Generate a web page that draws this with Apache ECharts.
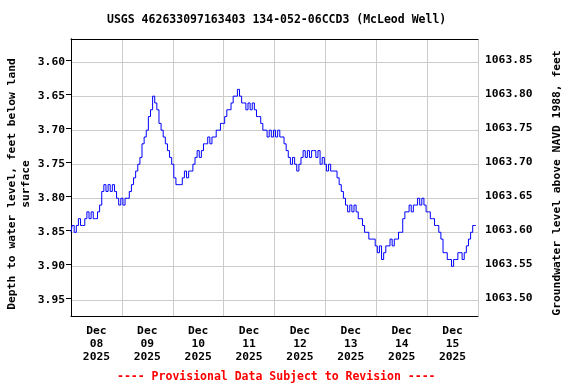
<!DOCTYPE html>
<html>
<head>
<meta charset="utf-8">
<script src="https://cdn.jsdelivr.net/npm/echarts@6/dist/echarts.min.js"></script>
<style>html,body{margin:0;padding:0;background:#fff}#c{width:576px;height:384px}</style>
</head>
<body>
<div id="c"></div>
<script>
// Hours since 2025-12-08 00:00
var hours = [];
for (var i = 0; i < 192; i++) hours.push(i);
// Depth to water level (feet below land surface), hourly
var depth = [
3.85,3.84,3.85,3.84,3.83,3.84,3.84,3.83,3.82,3.83,3.82,3.83,3.83,3.82,3.81,3.79,
3.78,3.79,3.78,3.79,3.78,3.79,3.80,3.81,3.80,3.81,3.80,3.80,3.79,3.78,3.77,3.76,
3.75,3.74,3.72,3.71,3.70,3.68,3.67,3.65,3.66,3.67,3.69,3.70,3.71,3.72,3.73,3.74,
3.75,3.77,3.78,3.78,3.78,3.77,3.76,3.77,3.76,3.76,3.75,3.74,3.73,3.74,3.73,3.72,
3.72,3.71,3.72,3.71,3.71,3.70,3.70,3.69,3.69,3.68,3.67,3.67,3.66,3.65,3.65,3.64,
3.65,3.66,3.66,3.67,3.66,3.67,3.66,3.67,3.68,3.68,3.69,3.70,3.70,3.71,3.70,3.71,
3.70,3.71,3.70,3.71,3.71,3.72,3.73,3.74,3.75,3.74,3.75,3.76,3.75,3.74,3.73,3.74,
3.73,3.74,3.73,3.73,3.74,3.73,3.75,3.74,3.75,3.76,3.75,3.76,3.76,3.76,3.77,3.78,
3.79,3.80,3.81,3.82,3.81,3.82,3.81,3.82,3.83,3.83,3.84,3.85,3.85,3.86,3.86,3.86,
3.87,3.88,3.87,3.89,3.88,3.87,3.87,3.86,3.87,3.86,3.86,3.85,3.85,3.83,3.82,3.82,
3.81,3.82,3.81,3.81,3.80,3.81,3.80,3.81,3.82,3.82,3.83,3.83,3.84,3.84,3.85,3.86,
3.88,3.88,3.89,3.89,3.90,3.89,3.89,3.88,3.88,3.89,3.88,3.87,3.86,3.85,3.84,3.84
];
var dayLabels = ['Dec\n08\n2025','Dec\n09\n2025','Dec\n10\n2025','Dec\n11\n2025','Dec\n12\n2025','Dec\n13\n2025','Dec\n14\n2025','Dec\n15\n2025'];
var landSurface = 1067.447; // elevation = landSurface - depth
var depthMin = 3.566, depthMax = 3.973;

var FONT = 'DejaVu Sans Mono';
var txt = {fontFamily: FONT, fontWeight: 'bold', fontSize: 11.3, color: '#000'};
var gtxt = {fontFamily: FONT, fontWeight: 'bold', fontSize: 11.3, fill: '#000'};

var data = hours.map(function (h, i) { return [h, depth[i]]; });

var chart = echarts.init(document.getElementById('c'), null, {renderer: 'canvas'});
chart.setOption({
  animation: false,
  backgroundColor: '#fff',
  title: [
    {text: 'USGS 462633097163403 134-052-06CCD3 (McLeod Well)', left: 102, top: 9,
     textStyle: Object.assign({}, txt, {fontSize: 11.5})},
    {text: '---- Provisional Data Subject to Revision ----', left: 112, top: 366,
     textStyle: Object.assign({}, txt, {color: '#ff0000', fontSize: 11.5})}
  ],
  graphic: [
    {type: 'text', x: 19, y: 184, rotation: Math.PI / 2,
     style: Object.assign({}, gtxt, {text: 'Depth to water level, feet below land\nsurface', align: 'center', verticalAlign: 'middle', lineHeight: 14})},
    {type: 'text', x: 557, y: 183, rotation: Math.PI / 2,
     style: Object.assign({}, gtxt, {text: 'Groundwater level above NAVD 1988, feet', align: 'center', verticalAlign: 'middle'})}
  ],
  grid: {left: 71, right: 98, top: 39, bottom: 68, show: false, containLabel: false, outerBoundsMode: 'none'},
  xAxis: [
    {type: 'value', gridIndex: 0, min: 0, max: 192, interval: 24, position: 'bottom',
     axisLine: {show: true, lineStyle: {color: '#000', width: 1}},
     axisTick: {show: false}, axisLabel: {show: false},
     splitLine: {show: true, lineStyle: {color: '#cccccc', width: 1}}},
    {type: 'category', gridIndex: 0, data: dayLabels, boundaryGap: true, position: 'bottom',
     axisLine: {show: false}, axisTick: {show: false}, splitLine: {show: false},
     axisLabel: Object.assign({}, txt, {margin: 9, lineHeight: 12.7, interval: 0})},
    {type: 'value', gridIndex: 0, min: 0, max: 1, position: 'top',
     axisLine: {show: true, lineStyle: {color: '#000', width: 1}},
     axisTick: {show: false}, axisLabel: {show: false}, splitLine: {show: false}}
  ],
  yAxis: [
    {type: 'value', inverse: true, min: depthMin, max: depthMax, splitNumber: 8, position: 'left',
     axisLine: {show: true, lineStyle: {color: '#000', width: 1}},
     axisTick: {show: false},
     axisLabel: Object.assign({}, txt, {margin: 6, showMinLabel: false, showMaxLabel: false,
       formatter: function (v) { return v.toFixed(2); }}),
     splitLine: {show: true, lineStyle: {color: '#cccccc', width: 1}}},
    {type: 'value', min: landSurface - depthMax, max: landSurface - depthMin, splitNumber: 8, position: 'right',
     axisLine: {show: true, lineStyle: {color: '#000', width: 1}},
     axisTick: {show: true, inside: true, length: 5, lineStyle: {color: '#000'}},
     axisLabel: Object.assign({}, txt, {margin: 7, showMinLabel: false, showMaxLabel: false,
       formatter: function (v) { return v.toFixed(2); }}),
     splitLine: {show: false}}
  ],
  series: [{
    type: 'line', xAxisIndex: 0, yAxisIndex: 0, data: data, showSymbol: false, step: 'middle',
    lineStyle: {color: '#0000ff', width: 1}, itemStyle: {color: '#0000ff'}
  }]
});
</script>
</body>
</html>
